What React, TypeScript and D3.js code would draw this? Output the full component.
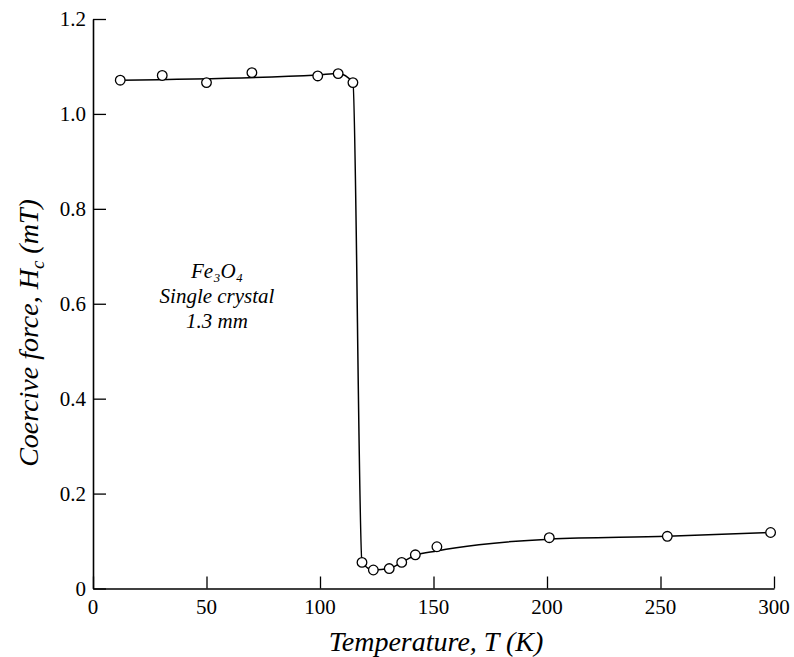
import React, { useEffect, useRef } from "react";
import * as d3 from "d3";

// measured points (temperature K, coercive force mT)
const tempPoints = [12, 30.5, 50, 70, 99, 108, 114.5, 118.5, 123.5, 130.5, 136, 142, 151.5, 201, 253, 298.5];
const hcPoints = [1.071, 1.081, 1.066, 1.087, 1.080, 1.085, 1.066, 0.055, 0.039, 0.042, 0.055, 0.071, 0.088, 0.107, 0.110, 0.118];

// hand-drawn guide curve
const tempCurve = [12, 99, 108, 114.5, 118.5, 123.5, 130.5, 136, 142, 151.5, 170, 201, 253, 298.5];
const hcCurve = [1.071, 1.082, 1.085, 1.066, 0.055, 0.039, 0.042, 0.055, 0.070, 0.079, 0.092, 0.104, 0.110, 0.118];

const xTicks = [0, 50, 100, 150, 200, 250, 300];
const yTicks = [0, 0.2, 0.4, 0.6, 0.8, 1.0, 1.2];

const W = 794;
const H = 657;
const FONT = "'Liberation Serif', 'Times New Roman', serif";

export default function App() {
  const ref = useRef<SVGSVGElement>(null);

  useEffect(() => {
    const svg = d3.select(ref.current);
    svg.selectAll("*").remove();

    const x = d3.scaleLinear().domain([0, 300]).range([93, 774]);
    const y = d3.scaleLinear().domain([0, 1.2]).range([588.5, 19]);

    svg.append("rect").attr("width", W).attr("height", H).attr("fill", "white");

    // axes (ticks pointing inward)
    const xAxis = svg.append("g")
      .attr("transform", `translate(0, ${y(0)})`)
      .call(d3.axisTop(x).tickValues(xTicks).tickSize(12).tickSizeOuter(0).tickFormat(() => ""));
    xAxis.select(".domain").attr("stroke-width", 1.6);
    xAxis.selectAll("line").attr("stroke-width", 1.3);

    const yAxis = svg.append("g")
      .attr("transform", `translate(${x(0)}, 0)`)
      .call(d3.axisRight(y).tickValues(yTicks).tickSize(13).tickSizeOuter(0).tickFormat(() => ""));
    yAxis.select(".domain").attr("stroke-width", 1.6);
    yAxis.selectAll("line").attr("stroke-width", 1.3);

    // tick labels
    svg.selectAll(".xlab").data(xTicks).join("text")
      .attr("class", "xlab")
      .attr("x", d => x(d))
      .attr("y", 614)
      .attr("text-anchor", "middle")
      .style("font-family", FONT)
      .style("font-size", "21px")
      .text(d => String(d));

    svg.selectAll(".ylab").data(yTicks).join("text")
      .attr("class", "ylab")
      .attr("x", 86)
      .attr("y", d => y(d) + 7)
      .attr("text-anchor", "end")
      .style("font-family", FONT)
      .style("font-size", "21px")
      .text(d => (d === 0 ? "0" : d.toFixed(1)));

    // guide curve
    const curveData = tempCurve.map((t, i) => ({ t, h: hcCurve[i] }));
    const line = d3.line<{ t: number; h: number }>()
      .x(d => x(d.t))
      .y(d => y(d.h))
      .curve(d3.curveMonotoneX);
    svg.append("path")
      .datum(curveData)
      .attr("d", line)
      .attr("fill", "none")
      .attr("stroke", "black")
      .attr("stroke-width", 1.5);

    // open circles
    const pts = tempPoints.map((t, i) => ({ t, h: hcPoints[i] }));
    svg.selectAll(".pt").data(pts).join("circle")
      .attr("class", "pt")
      .attr("cx", d => x(d.t))
      .attr("cy", d => y(d.h))
      .attr("r", 4.8)
      .attr("fill", "white")
      .attr("stroke", "black")
      .attr("stroke-width", 1.3);

    // axis titles
    svg.append("text")
      .attr("x", 436)
      .attr("y", 651)
      .attr("text-anchor", "middle")
      .style("font-family", FONT)
      .style("font-style", "italic")
      .style("font-size", "28px")
      .text("Temperature, T (K)");

    const yt = svg.append("text")
      .attr("transform", "translate(38, 333) rotate(-90)")
      .attr("text-anchor", "middle")
      .style("font-family", FONT)
      .style("font-style", "italic")
      .style("font-size", "28px");
    yt.append("tspan").text("Coercive force, H");
    yt.append("tspan").style("font-size", "19px").attr("dy", 6).text("c");
    yt.append("tspan").attr("dy", -6).text(" (mT)");

    // annotation
    const ann = svg.append("g")
      .style("font-family", FONT)
      .style("font-style", "italic")
      .style("font-size", "21px")
      .attr("text-anchor", "middle");
    ann.append("text").attr("x", 217).attr("y", 278).text("Fe₃O₄");
    ann.append("text").attr("x", 217).attr("y", 303).text("Single crystal");
    ann.append("text").attr("x", 217).attr("y", 328).text("1.3 mm");
  }, []);

  return (
    <svg
      ref={ref}
      width={W}
      height={H}
      style={{ position: "absolute", left: 0, top: 0 }}
    />
  );
}
